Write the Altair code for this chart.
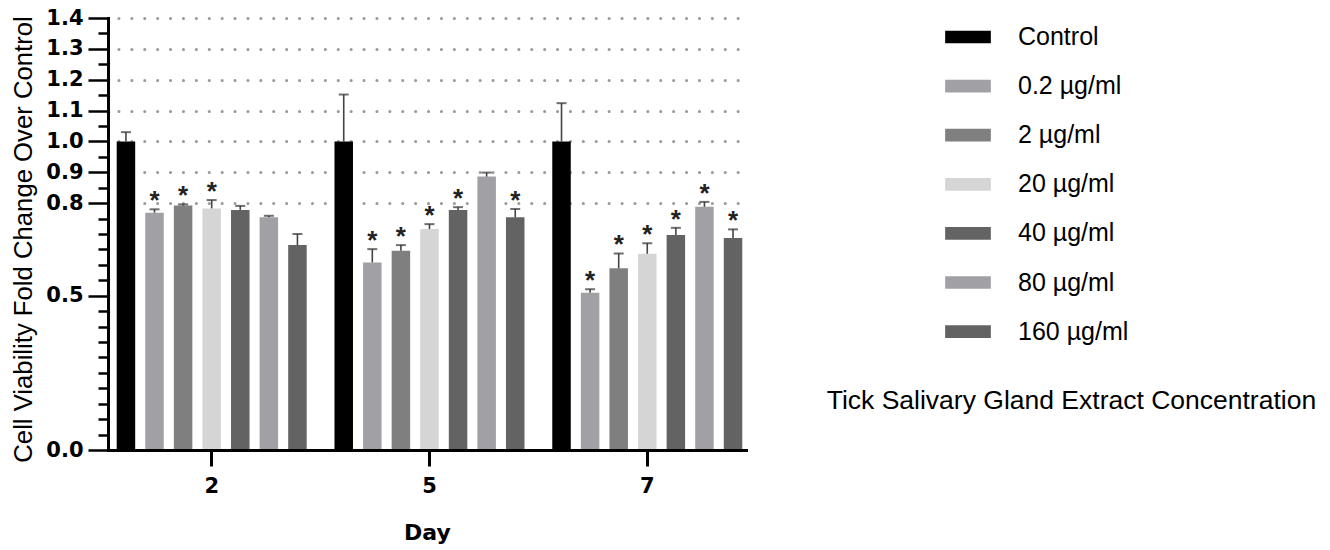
import altair as alt
import pandas as pd

days = ["2", "5", "7"]
treatments = ["Control", "0.2 µg/ml", "2 µg/ml", "20 µg/ml", "40 µg/ml", "80 µg/ml", "160 µg/ml"]
colors = ["#000000", "#a1a1a5", "#7f7f7f", "#d5d5d5", "#636363", "#a1a1a5", "#636363"]

mean_day2 = [1.000, 0.769, 0.792, 0.783, 0.778, 0.754, 0.664]
err_day2 = [0.030, 0.011, 0.004, 0.027, 0.013, 0.005, 0.036]
sig_day2 = [0, 1, 1, 1, 0, 0, 0]

mean_day5 = [1.000, 0.608, 0.646, 0.716, 0.778, 0.886, 0.754]
err_day5 = [0.152, 0.043, 0.018, 0.016, 0.009, 0.013, 0.027]
sig_day5 = [0, 1, 1, 1, 1, 0, 1]

mean_day7 = [1.000, 0.510, 0.589, 0.636, 0.697, 0.788, 0.687]
err_day7 = [0.124, 0.011, 0.048, 0.034, 0.023, 0.016, 0.028]
sig_day7 = [0, 1, 1, 1, 1, 1, 1]

y_tick_values = [0.0, 0.05, 0.1, 0.15, 0.2, 0.25, 0.3, 0.35, 0.4, 0.45, 0.5,
                 0.55, 0.6, 0.65, 0.7, 0.75, 0.8, 0.85, 0.9, 0.95, 1.0,
                 1.05, 1.1, 1.15, 1.2, 1.25, 1.3, 1.35, 1.4]

y_title = "Cell Viability Fold Change Over Control"
x_title = "Day"
legend_title = "Tick Salivary Gland Extract Concentration"

rows = []
for d, means, errs, sigs in zip(days, [mean_day2, mean_day5, mean_day7],
                                [err_day2, err_day5, err_day7],
                                [sig_day2, sig_day5, sig_day7]):
    for t, m, e, s in zip(treatments, means, errs, sigs):
        rows.append({"Day": d, "Treatment": t, "mean": m, "top": m + e,
                     "star": "*" if s else ""})
df = pd.DataFrame(rows)

tenth = "abs(datum.value * 10 - round(datum.value * 10)) < 0.01"
grid_test = f"({tenth}) && datum.value > 0.75"
major_test = f"datum.value < 0.01 || abs(datum.value - 0.5) < 0.01 || ({grid_test})"

y_axis = alt.Axis(
    values=y_tick_values,
    labelExpr=f"({major_test}) ? format(datum.value, '.1f') : ''",
    labelOverlap=False, labelFlush=False,
    tickSize=alt.condition(major_test, alt.value(20), alt.value(10)),
    tickWidth=2.5, tickColor="black",
    domainColor="black", domainWidth=3, domainCap="square",
    labelFont="DejaVu Sans", labelFontWeight="bold", labelFontSize=21,
    labelColor="black", labelPadding=5,
    grid=True, gridColor="#9a9a9a", gridWidth=3, gridDash=[0.1, 12.8],
    gridCap="round", gridDashOffset=2.5,
    gridOpacity=alt.condition(grid_test, alt.value(1), alt.value(0)),
    title=y_title, titleFont="Liberation Sans", titleFontSize=25.7,
    titleFontWeight="normal", titleColor="black", titlePadding=9, titleY=221,
    zindex=0,
)

x_axis = alt.Axis(
    title=x_title, labelAngle=0,
    labelFont="DejaVu Sans", labelFontWeight="bold", labelFontSize=21,
    labelColor="black", labelPadding=9,
    tickSize=16, tickWidth=3, tickColor="black",
    domainColor="black", domainWidth=3, domainCap="square",
    titleFont="DejaVu Sans", titleFontWeight="bold", titleFontSize=22,
    titleColor="black", titlePadding=26, grid=False, zindex=1,
)

x_enc = alt.X("Day:N", sort=days, axis=x_axis,
              scale=alt.Scale(paddingInner=0.1276, paddingOuter=0.0285, align=0.7))
xo_enc = alt.XOffset("Treatment:N", sort=treatments,
                     scale=alt.Scale(paddingInner=0.3527, paddingOuter=0))
y_scale = alt.Scale(domain=[0, 1.4], nice=False, zero=True)

bars = alt.Chart(df).mark_bar().encode(
    x=x_enc, xOffset=xo_enc,
    y=alt.Y("mean:Q", scale=y_scale, axis=y_axis),
    color=alt.Color(
        "Treatment:N", sort=treatments,
        scale=alt.Scale(domain=treatments, range=colors),
        legend=alt.Legend(
            title=None, orient="none", legendX=837, legendY=-4,
            symbolType="M-1,-0.278H1V0.278H-1Z", symbolSize=2088,
            symbolStrokeWidth=0, symbolOpacity=1,
            labelFont="Liberation Sans", labelFontSize=25, labelColor="black",
            labelOffset=27, rowPadding=13.1, padding=0,
        ),
    ),
)

rules = alt.Chart(df).mark_rule(color="#444444", strokeWidth=1.6).encode(
    x=x_enc, xOffset=xo_enc,
    y=alt.Y("mean:Q", scale=y_scale, axis=y_axis), y2="top:Q",
)

caps = alt.Chart(df).mark_tick(color="#333333", thickness=2, size=10).encode(
    x=x_enc, xOffset=xo_enc,
    y=alt.Y("top:Q", scale=y_scale, axis=y_axis),
)

stars = alt.Chart(df).transform_filter("datum.star != ''").mark_text(
    font="Liberation Sans", fontSize=26, fontWeight="bold", color="#222222",
    baseline="alphabetic", dy=0,
).encode(
    x=x_enc, xOffset=xo_enc,
    y=alt.Y("top:Q", scale=y_scale, axis=y_axis),
    text="star:N",
)

title_df = pd.DataFrame({"t": [legend_title]})
legend_title_text = alt.Chart(title_df).mark_text(
    font="Liberation Sans", fontSize=26.5, color="black",
    align="left", baseline="alphabetic",
).encode(x=alt.value(718.7), y=alt.value(391.3), text="t:N")

chart = alt.layer(bars, rules, caps, stars, legend_title_text).properties(
    width=638, height=432,
    autosize=alt.AutoSizeParams(type="none"),
    padding={"left": 108, "top": 18, "right": 584, "bottom": 100},
    background="white",
).configure_view(stroke=None)

chart.save("out.html", embed_options={"renderer": "svg", "actions": False})
